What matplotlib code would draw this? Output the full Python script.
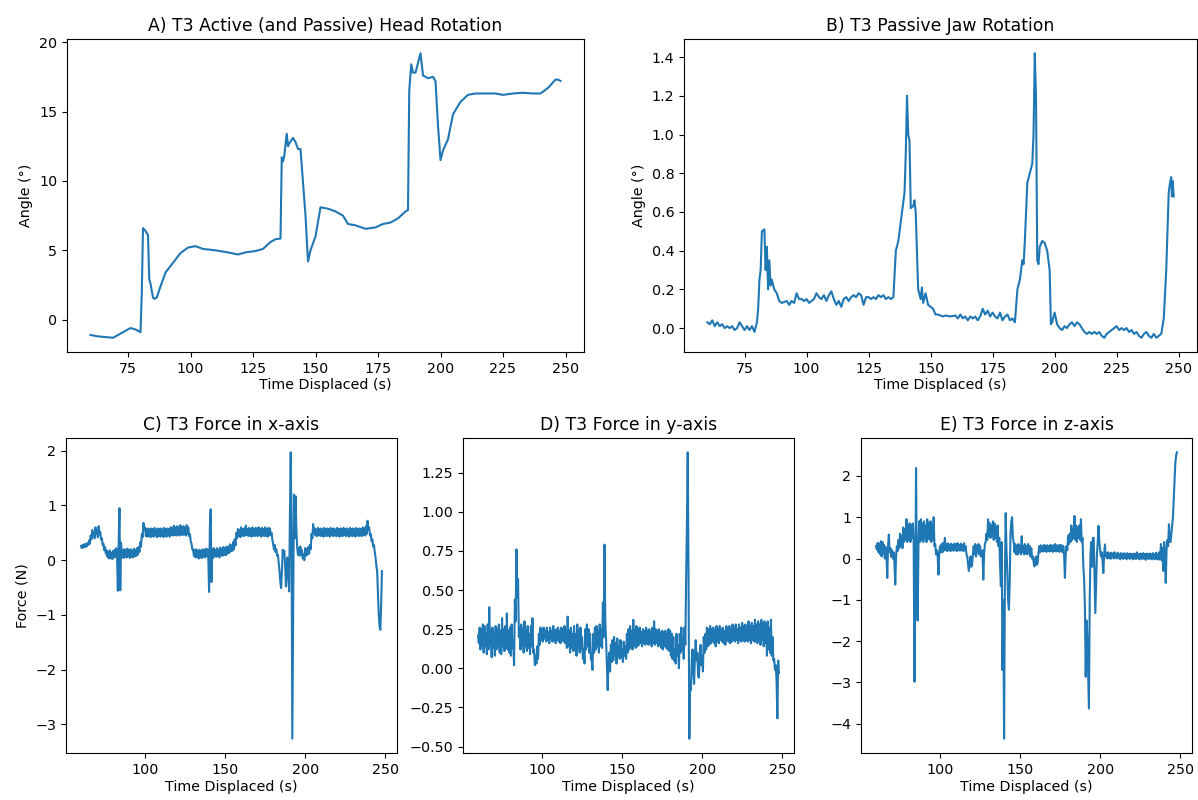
import numpy as np
import matplotlib
matplotlib.use("Agg")
import matplotlib.pyplot as plt

# ---- head rotation (time s, angle deg) ----
head_rotation = [
    (60, -1.1), (63, -1.2), (66, -1.25), (69, -1.3), (72, -1.0), (74, -0.8), (76, -0.6),
    (78, -0.7), (80, -0.9), (80.5, 1.8), (81, 6.6), (82, 6.4), (83, 6.1), (83.5, 2.9),
    (84, 2.6), (85, 1.6), (85.5, 1.5), (86.5, 1.6), (88, 2.4), (90, 3.4), (93, 4.1),
    (96, 4.8), (99, 5.2), (102, 5.3), (105, 5.1), (110, 5.0), (115, 4.85), (119, 4.7),
    (122, 4.85), (126, 4.95), (129, 5.1), (132, 5.6), (134, 5.8), (136, 5.85), (136.5, 11.7),
    (137, 11.4), (137.5, 11.8), (138.5, 13.4), (139, 12.5), (139.5, 12.7), (141, 13.1),
    (142, 12.8), (143, 12.3), (144, 12.3), (146, 7.5), (147, 4.2), (148, 5.0), (150, 6.0),
    (152, 8.1), (155, 8.0), (158, 7.8), (161, 7.5), (163, 6.9), (166, 6.8), (170, 6.55),
    (174, 6.65), (177, 6.9), (180, 7.0), (183, 7.3), (186, 7.8), (187, 7.9), (187.5, 16.5),
    (188.3, 18.4), (189, 17.8), (190, 17.8), (191, 18.5), (192, 19.2), (193, 17.6),
    (195, 17.4), (197, 17.5), (198, 17.2), (199, 14.0), (200, 11.5), (201, 12.2),
    (203, 13.0), (205, 14.8), (208, 15.7), (211, 16.2), (214, 16.3), (218, 16.3),
    (222, 16.3), (225, 16.2), (229, 16.3), (233, 16.35), (237, 16.3), (240, 16.3),
    (243, 16.7), (246, 17.3), (247, 17.3), (248, 17.2),
]

# ---- jaw rotation (time s, angle deg) ----
jaw_rotation = [
    (60, 0.03), (61, 0.02), (62, 0.04), (63, 0.01), (64, 0.03), (65, 0.01), (66, 0.02),
    (67, 0.0), (68, 0.01), (69, 0.0), (70, 0.01), (71, -0.01), (72, 0.0), (73, 0.03),
    (74, 0.01), (75, -0.01), (76, 0.01), (77, -0.01), (78, 0.01), (79, -0.02), (80, 0.03),
    (80.5, 0.1), (81, 0.25), (81.5, 0.3), (82, 0.5), (83, 0.51), (83.5, 0.3), (84, 0.42),
    (84.5, 0.2), (85, 0.35), (85.5, 0.22), (86, 0.25), (87, 0.2), (88, 0.18), (89, 0.14),
    (90, 0.13), (92, 0.14), (93, 0.12), (94, 0.14), (95, 0.13), (96, 0.18), (97, 0.15),
    (98, 0.15), (99, 0.14), (100, 0.15), (101, 0.13), (102, 0.14), (103, 0.15), (104, 0.18),
    (105, 0.16), (106, 0.15), (107, 0.17), (108, 0.14), (109, 0.17), (110, 0.19), (111, 0.15),
    (112, 0.12), (113, 0.14), (114, 0.11), (115, 0.15), (116, 0.16), (117, 0.14), (118, 0.16),
    (119, 0.17), (120, 0.16), (121, 0.18), (122, 0.17), (123, 0.12), (124, 0.16), (125, 0.16),
    (126, 0.15), (127, 0.16), (128, 0.15), (129, 0.17), (130, 0.16), (131, 0.17), (132, 0.15),
    (133, 0.16), (134, 0.15), (135, 0.16), (136, 0.4), (137, 0.45), (138, 0.55), (138.5, 0.6),
    (139, 0.65), (139.5, 0.7), (140, 0.9), (140.5, 1.2), (141, 1.0), (141.5, 0.97), (142, 0.62),
    (143, 0.63), (143.5, 0.66), (144, 0.6), (145, 0.2), (146, 0.15), (146.5, 0.21), (147, 0.13),
    (148, 0.18), (149, 0.12), (150, 0.11), (151, 0.1), (152, 0.07), (153, 0.07), (155, 0.06),
    (156, 0.065), (158, 0.06), (160, 0.065), (161, 0.05), (162, 0.07), (163, 0.05), (164, 0.06),
    (165, 0.04), (166, 0.06), (167, 0.05), (168, 0.06), (169, 0.04), (170, 0.06), (171, 0.1),
    (172, 0.07), (173, 0.09), (174, 0.06), (175, 0.08), (176, 0.06), (177, 0.05), (178, 0.08),
    (179, 0.04), (180, 0.06), (181, 0.07), (182, 0.04), (183, 0.05), (184, 0.03), (185, 0.2),
    (186, 0.25), (187, 0.35), (187.5, 0.33), (188, 0.45), (189, 0.75), (190, 0.8), (191, 0.85),
    (191.5, 1.0), (192, 1.42), (192.5, 1.2), (193, 0.35), (193.5, 0.33), (194, 0.42), (195, 0.45),
    (196, 0.44), (197, 0.4), (198, 0.3), (198.5, 0.02), (199, 0.03), (200, 0.08), (201, 0.02),
    (202, 0.0), (203, -0.01), (204, 0.01), (205, 0.0), (206, 0.02), (207, 0.03), (208, 0.01),
    (209, 0.03), (210, 0.02), (211, 0.0), (212, -0.02), (213, -0.03), (214, -0.02), (215, -0.03),
    (216, -0.02), (217, -0.03), (218, -0.02), (219, -0.04), (220, -0.05), (221, -0.03),
    (222, -0.02), (223, -0.01), (224, 0.0), (225, 0.01), (226, -0.01), (227, 0.0), (228, -0.01),
    (229, 0.0), (230, -0.02), (231, -0.01), (232, -0.03), (233, -0.02), (234, -0.04),
    (235, -0.05), (236, -0.03), (237, -0.02), (238, -0.04), (239, -0.05), (240, -0.03),
    (241, -0.05), (242, -0.04), (243, -0.03), (244, 0.05), (245, 0.3), (245.5, 0.5), (246, 0.7),
    (246.5, 0.75), (247, 0.78), (247.3, 0.68), (247.6, 0.76), (248, 0.68),
]

# ---- force samples every 0.5 s from 60 s (each row covers 5 s) ----
force_start, force_step = 60.0, 0.5
force_x = [
    0.26, 0.22, 0.28, 0.23, 0.29, 0.24, 0.30, 0.25, 0.31, 0.28,
    0.36, 0.30, 0.45, 0.38, 0.55, 0.44, 0.50, 0.40, 0.60, 0.48,
    0.55, 0.42, 0.62, 0.47, 0.52, 0.38, 0.40, 0.28, 0.30, 0.18,
    0.24, 0.12, 0.18, 0.06, 0.15, 0.03, 0.18, 0.04, 0.14, 0.02,
    0.17, 0.05, 0.19, 0.06, 0.22, 0.05, -0.56, 0.30, 0.95, -0.55,
    0.32, 0.06, 0.18, 0.04, 0.20, 0.06, 0.19, 0.05, 0.21, 0.07,
    0.18, 0.04, 0.20, 0.06, 0.17, 0.05, 0.21, 0.07, 0.19, 0.08,
    0.22, 0.10, 0.24, 0.15, 0.33, 0.25, 0.48, 0.42, 0.68, 0.55,
    0.60, 0.44, 0.57, 0.43, 0.58, 0.44, 0.56, 0.42, 0.58, 0.44,
    0.57, 0.43, 0.59, 0.45, 0.56, 0.42, 0.58, 0.44, 0.57, 0.43,
    0.58, 0.45, 0.56, 0.42, 0.59, 0.44, 0.57, 0.43, 0.58, 0.45,
    0.56, 0.43, 0.60, 0.46, 0.59, 0.45, 0.63, 0.46, 0.60, 0.45,
    0.62, 0.47, 0.60, 0.45, 0.64, 0.47, 0.60, 0.46, 0.62, 0.47,
    0.59, 0.45, 0.64, 0.48, 0.60, 0.44, 0.48, 0.35, 0.30, 0.20,
    0.20, 0.08, 0.18, 0.05, 0.20, 0.06, 0.16, 0.03, 0.19, 0.05,
    0.17, 0.04, 0.20, 0.06, 0.18, 0.05, 0.21, 0.07, 0.20, 0.06,
    -0.58, 0.60, 0.93, -0.40, 0.20, 0.04, 0.22, 0.07, 0.19, 0.06,
    0.22, 0.08, 0.18, 0.05, 0.23, 0.09, 0.20, 0.08, 0.24, 0.10,
    0.21, 0.09, 0.25, 0.12, 0.24, 0.13, 0.29, 0.16, 0.27, 0.17,
    0.33, 0.20, 0.38, 0.27, 0.50, 0.40, 0.57, 0.44, 0.55, 0.42,
    0.60, 0.45, 0.57, 0.44, 0.58, 0.45, 0.63, 0.46, 0.57, 0.44,
    0.59, 0.45, 0.57, 0.43, 0.60, 0.45, 0.57, 0.44, 0.59, 0.45,
    0.58, 0.44, 0.60, 0.46, 0.57, 0.43, 0.59, 0.45, 0.57, 0.44,
    0.60, 0.45, 0.57, 0.43, 0.59, 0.45, 0.58, 0.46, 0.50, 0.38,
    0.30, 0.20, 0.28, 0.15, 0.20, 0.08, 0.10, -0.05, -0.20, -0.40,
    -0.51, -0.20, 0.19, 0.10, 0.17, -0.10, -0.48, -0.20, 0.05, -0.30,
    -0.57, 0.80, 1.97, 0.50, -3.26, -1.00, 1.20, 0.40, 1.17, 0.60,
    0.25, 0.10, 0.22, 0.08, 0.25, 0.10, 0.18, 0.03, 0.10, 0.00,
    0.22, 0.08, 0.20, 0.10, 0.24, 0.12, 0.28, 0.20, 0.48, 0.40,
    0.66, 0.50, 0.58, 0.45, 0.56, 0.44, 0.59, 0.46, 0.57, 0.44,
    0.58, 0.45, 0.56, 0.43, 0.59, 0.45, 0.57, 0.44, 0.58, 0.45,
    0.56, 0.43, 0.59, 0.46, 0.57, 0.44, 0.58, 0.45, 0.56, 0.44,
    0.59, 0.45, 0.57, 0.43, 0.58, 0.45, 0.56, 0.44, 0.59, 0.46,
    0.57, 0.44, 0.58, 0.45, 0.56, 0.43, 0.59, 0.45, 0.57, 0.44,
    0.58, 0.45, 0.56, 0.43, 0.59, 0.46, 0.57, 0.44, 0.58, 0.45,
    0.57, 0.44, 0.60, 0.46, 0.58, 0.45, 0.62, 0.48, 0.72, 0.55,
    0.60, 0.45, 0.48, 0.35, 0.38, 0.25, 0.28, 0.15, 0.05, -0.10,
    -0.20, -0.60, -1.00, -1.20, -1.27, -0.80, -0.20,
]
force_y = [
    0.21, 0.16, 0.26, 0.12, 0.25, 0.15, 0.28, 0.10, 0.27, 0.14,
    0.22, 0.09, 0.28, 0.12, 0.39, 0.15, 0.24, 0.07, 0.26, 0.13,
    0.22, 0.08, 0.27, 0.12, 0.25, 0.14, 0.28, 0.10, 0.24, 0.09,
    0.32, 0.14, 0.25, 0.11, 0.27, 0.13, 0.35, 0.12, 0.24, 0.10,
    0.26, 0.08, 0.28, 0.13, 0.15, 0.02, 0.44, 0.30, 0.76, 0.45,
    0.57, 0.20, 0.26, 0.12, 0.28, 0.15, 0.25, 0.10, 0.30, 0.14,
    0.24, 0.11, 0.27, 0.13, 0.22, 0.09, 0.27, 0.14, 0.32, 0.10,
    0.12, 0.02, 0.08, 0.03, 0.14, 0.06, 0.22, 0.15, 0.26, 0.18,
    0.25, 0.17, 0.26, 0.19, 0.24, 0.17, 0.26, 0.18, 0.23, 0.16,
    0.26, 0.19, 0.24, 0.17, 0.27, 0.18, 0.24, 0.16, 0.25, 0.18,
    0.26, 0.17, 0.24, 0.16, 0.26, 0.18, 0.25, 0.17, 0.27, 0.16,
    0.24, 0.13, 0.33, 0.14, 0.24, 0.10, 0.26, 0.13, 0.22, 0.11,
    0.27, 0.12, 0.22, 0.08, 0.28, 0.13, 0.24, 0.10, 0.26, 0.12,
    0.20, 0.06, 0.12, 0.03, 0.25, 0.12, 0.28, 0.14, 0.25, 0.10,
    0.22, 0.06, 0.05, -0.01, 0.22, 0.10, 0.26, 0.12, 0.27, 0.14,
    0.24, 0.10, 0.28, 0.14, 0.25, 0.13, 0.42, 0.20, 0.79, 0.30,
    0.18, 0.02, -0.14, 0.05, 0.10, -0.02, 0.15, 0.04, 0.18, 0.05,
    0.20, 0.08, 0.16, 0.03, 0.19, 0.08, 0.14, 0.06, 0.18, 0.07,
    0.12, 0.04, 0.17, 0.08, 0.14, 0.06, 0.22, 0.10, 0.25, 0.12,
    0.27, 0.14, 0.24, 0.12, 0.31, 0.15, 0.24, 0.13, 0.27, 0.14,
    0.25, 0.15, 0.26, 0.16, 0.23, 0.14, 0.25, 0.16, 0.24, 0.15,
    0.26, 0.16, 0.24, 0.15, 0.25, 0.16, 0.23, 0.14, 0.26, 0.16,
    0.30, 0.15, 0.25, 0.16, 0.24, 0.14, 0.25, 0.15, 0.23, 0.13,
    0.24, 0.12, 0.23, 0.14, 0.24, 0.13, 0.22, 0.12, 0.25, 0.11,
    0.24, 0.08, 0.22, 0.06, 0.20, 0.05, 0.12, 0.03, 0.22, 0.08,
    0.15, 0.00, 0.22, 0.10, 0.26, 0.12, 0.20, 0.06, 0.26, 0.15,
    0.57, 0.92, 1.38, 0.60, -0.45, -0.10, -0.14, 0.05, 0.12, -0.02,
    -0.10, 0.08, 0.18, 0.05, 0.10, -0.05, -0.06, 0.08, 0.15, 0.02,
    0.08, -0.02, 0.20, 0.10, 0.22, 0.12, 0.26, 0.14, 0.25, 0.15,
    0.27, 0.16, 0.25, 0.17, 0.26, 0.16, 0.24, 0.14, 0.27, 0.17,
    0.25, 0.16, 0.27, 0.18, 0.25, 0.17, 0.26, 0.16, 0.24, 0.15,
    0.27, 0.18, 0.26, 0.17, 0.27, 0.16, 0.25, 0.17, 0.28, 0.18,
    0.26, 0.17, 0.28, 0.18, 0.25, 0.16, 0.28, 0.18, 0.26, 0.17,
    0.29, 0.18, 0.27, 0.17, 0.28, 0.18, 0.26, 0.17, 0.30, 0.18,
    0.27, 0.16, 0.29, 0.18, 0.27, 0.17, 0.31, 0.17, 0.28, 0.16,
    0.30, 0.18, 0.28, 0.15, 0.31, 0.18, 0.29, 0.14, 0.30, 0.16,
    0.28, 0.08, 0.30, 0.12, 0.26, 0.10, 0.31, 0.08, 0.20, 0.05,
    0.06, -0.01, 0.02, -0.08, -0.32, 0.05, -0.03,
]
force_z = [
    0.30, 0.22, 0.38, 0.15, 0.35, 0.10, 0.42, 0.05, 0.40, 0.12,
    0.33, 0.00, 0.28, 0.10, -0.47, 0.30, 0.58, 0.15, 0.25, 0.05,
    0.20, 0.00, 0.15, -0.10, -0.63, 0.05, 0.30, 0.18, 0.45, 0.25,
    0.60, 0.30, 0.55, 0.25, 0.75, 0.40, 0.70, 0.45, 0.95, 0.40,
    0.80, 0.45, 0.85, 0.40, 0.80, 0.50, 0.85, 0.45, -2.98, -1.00,
    2.19, -0.50, -1.50, 0.30, 0.90, 0.40, 0.95, 0.45, 0.85, 0.40,
    0.90, 0.50, 0.80, 0.40, 0.95, 0.50, 0.85, 0.45, 0.90, 0.40,
    0.80, 0.45, 1.00, 0.30, 0.35, 0.10, 0.20, 0.05, -0.39, 0.15,
    0.30, 0.15, 0.35, 0.15, 0.38, 0.20, 0.50, 0.20, 0.35, 0.18,
    0.37, 0.20, 0.33, 0.18, 0.36, 0.20, 0.33, 0.19, 0.36, 0.20,
    0.34, 0.18, 0.37, 0.20, 0.33, 0.19, 0.36, 0.20, 0.33, 0.18,
    0.37, 0.20, 0.30, 0.10, 0.05, -0.15, -0.30, -0.10, 0.05, -0.20,
    -0.15, 0.10, 0.30, 0.10, 0.35, 0.05, 0.30, 0.15, 0.35, 0.10,
    0.30, 0.05, 0.15, 0.20, -0.51, 0.10, 0.35, 0.40, 0.60, 0.45,
    0.95, 0.55, 0.85, 0.50, 0.80, 0.55, 0.90, 0.45, 0.85, 0.50,
    0.75, 0.40, 0.80, 0.30, 0.50, -0.20, -0.67, 0.40, -2.70, -1.00,
    -4.36, -0.50, 1.10, 0.20, -0.30, -1.00, -1.24, -0.60, 0.60, 0.90,
    1.00, 0.50, 0.40, 0.15, 0.35, 0.10, 0.30, 0.10, 0.35, 0.15,
    0.30, 0.10, 0.54, 0.15, 0.30, 0.10, 0.35, 0.12, 0.30, 0.10,
    0.35, 0.15, 0.30, 0.05, 0.25, 0.00, 0.05, -0.10, -0.19, 0.00,
    0.05, -0.15, -0.10, 0.15, 0.30, 0.15, 0.32, 0.18, 0.30, 0.17,
    0.33, 0.18, 0.31, 0.16, 0.32, 0.18, 0.30, 0.17, 0.33, 0.18,
    0.31, 0.16, 0.32, 0.18, 0.35, 0.17, 0.31, 0.18, 0.32, 0.16,
    0.33, 0.18, 0.32, 0.15, 0.30, 0.10, -0.47, 0.10, 0.30, 0.20,
    0.55, 0.35, 0.60, 0.40, 0.80, 0.45, 0.70, 0.50, 1.03, 0.45,
    0.80, 0.40, 0.75, 0.50, 0.80, 0.45, 0.95, 0.40, 0.50, -0.20,
    -0.50, -1.20, -2.86, -1.50, -1.89, -2.80, -3.63, -1.00, 0.14, 0.40,
    -0.20, 0.50, 0.50, -0.40, -1.32, -0.60, 0.10, 0.40, 0.79, 0.40,
    0.20, 0.05, 0.15, -0.05, -0.35, 0.10, 0.34, 0.05, 0.12, 0.00,
    0.15, 0.02, 0.12, -0.01, 0.14, 0.03, 0.12, 0.00, 0.15, 0.02,
    0.11, 0.00, 0.14, 0.02, 0.10, -0.02, 0.13, 0.01, 0.11, -0.01,
    0.13, 0.02, 0.10, -0.02, 0.13, 0.01, 0.11, -0.01, 0.12, 0.01,
    0.10, -0.02, 0.12, 0.00, 0.11, -0.01, 0.15, 0.01, 0.10, -0.02,
    0.12, 0.00, 0.11, -0.01, 0.13, 0.00, 0.10, -0.03, 0.12, 0.00,
    0.11, -0.01, 0.12, 0.00, 0.10, -0.02, 0.13, 0.00, 0.10, -0.02,
    0.14, 0.00, 0.10, -0.03, 0.15, 0.00, 0.35, -0.05, 0.25, -0.30,
    0.40, 0.10, -0.59, 0.20, 0.45, 0.30, 0.83, 0.40, 0.40, 0.60,
    0.80, 1.00, 1.43, 1.90, 2.32, 2.50, 2.57,
]

titles = [
    "A) T3 Active (and Passive) Head Rotation",
    "B) T3 Passive Jaw Rotation",
    "C) T3 Force in x-axis",
    "D) T3 Force in y-axis",
    "E) T3 Force in z-axis",
]
xlabel = "Time Displaced (s)"
angle_label = "Angle (°)"
force_label = "Force (N)"

plt.rcParams["font.family"] = "DejaVu Sans"
plt.rcParams["font.size"] = 10.3
LINE = "#1f77b4"
LW = 1.5

W, H = 1198, 800
fig = plt.figure(figsize=(W / 100, H / 100), dpi=100)


def box(left, right, top, bottom):
    return [left / W, 1 - bottom / H, (right - left) / W, (bottom - top) / H]


ax_a = fig.add_axes(box(67, 584, 39, 352))
ax_b = fig.add_axes(box(684, 1197, 39, 352))
ax_c = fig.add_axes(box(66, 397, 438, 753))
ax_d = fig.add_axes(box(463, 794, 438, 753))
ax_e = fig.add_axes(box(861, 1192, 438, 753))

t_head, v_head = zip(*head_rotation)
ax_a.plot(t_head, v_head, color=LINE, lw=LW)
ax_a.set_ylabel(angle_label)

t_jaw, v_jaw = zip(*jaw_rotation)
ax_b.plot(t_jaw, v_jaw, color=LINE, lw=LW)
ax_b.set_ylabel(angle_label)


def force_times(values):
    return force_start + force_step * np.arange(len(values))


ax_c.plot(force_times(force_x), force_x, color=LINE, lw=LW)
ax_c.set_ylabel(force_label)
ax_d.plot(force_times(force_y), force_y, color=LINE, lw=LW)
ax_e.plot(force_times(force_z), force_z, color=LINE, lw=LW)

for ax, title in zip([ax_a, ax_b, ax_c, ax_d, ax_e], titles):
    ax.set_title(title, fontsize=12.4)
    ax.set_xlabel(xlabel, labelpad=2)

for ax in (ax_a, ax_b):
    ax.set_xticks([75, 100, 125, 150, 175, 200, 225, 250])
for ax in (ax_c, ax_d, ax_e):
    ax.set_xticks([100, 150, 200, 250])

fig.savefig("out.png", dpi=100)
